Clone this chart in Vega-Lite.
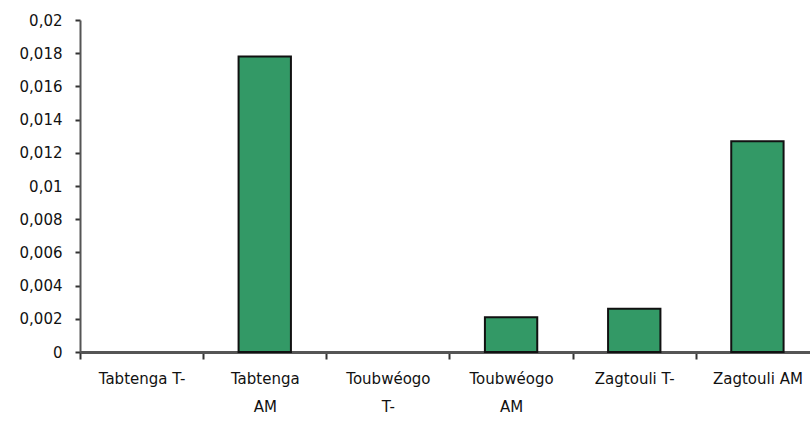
{
  "$schema": "https://vega.github.io/schema/vega-lite/v6.json",
  "width": 730,
  "height": 332,
  "autosize": {"type": "none"},
  "padding": {"left": 80, "top": 20, "right": 0, "bottom": 71},
  "background": "white",
  "config": {"view": {"stroke": null}, "font": "DejaVu Sans"},
  "data": {
    "values": [
      {"site": "Tabtenga T-", "value": 0},
      {"site": "Tabtenga AM", "value": 0.0178},
      {"site": "Toubwéogo T-", "value": 0},
      {"site": "Toubwéogo AM", "value": 0.0021},
      {"site": "Zagtouli T-", "value": 0.0026},
      {"site": "Zagtouli AM", "value": 0.0127}
    ]
  },
  "mark": {"type": "bar", "fill": "#339966", "stroke": "#111111", "strokeWidth": 2},
  "encoding": {
    "x": {
      "field": "site",
      "type": "nominal",
      "sort": null,
      "scale": {"paddingInner": 0.575, "range": [0, 739]},
      "axis": {
        "title": null,
        "labelAngle": 0,
        "tickOffset": -61.6,
        "labelOffset": 61.6,
        "domainColor": "#555555",
        "domainWidth": 3,
        "tickColor": "#333333",
        "tickSize": 7,
        "tickWidth": 2,
        "labelFont": "DejaVu Sans",
        "labelFontSize": 15,
        "labelColor": "#111111",
        "labelPadding": 12,
        "labelLineHeight": 28,
        "labelLimit": 0,
        "labelExpr": "indexof(['Tabtenga AM','Toubwéogo T-','Toubwéogo AM'], datum.value) >= 0 ? split(datum.value, ' ') : datum.value"
      }
    },
    "y": {
      "field": "value",
      "type": "quantitative",
      "scale": {"domain": [0, 0.02], "nice": false},
      "axis": {
        "title": null,
        "grid": false,
        "values": [0, 0.002, 0.004, 0.006, 0.008, 0.01, 0.012, 0.014, 0.016, 0.018, 0.02],
        "labelExpr": "replace(format(datum.value, '.3~f'), '.', ',')",
        "domainColor": "#555555",
        "domainWidth": 2,
        "tickColor": "#333333",
        "tickSize": 5,
        "tickWidth": 2,
        "labelFont": "DejaVu Sans",
        "labelFontSize": 15,
        "labelColor": "#111111",
        "labelPadding": 13
      }
    },
    "strokeOpacity": {"condition": {"test": "datum.value > 0", "value": 1}, "value": 0}
  }
}
